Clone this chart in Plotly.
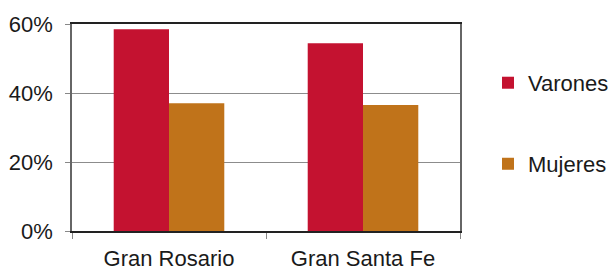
import plotly.graph_objects as go

categories = ["Gran Rosario", "Gran Santa Fe"]
varones = [58.5, 54.4]
mujeres = [37.0, 36.5]
y_ticks = [0, 20, 40, 60]
y_tick_labels = ["0%", "20%", "40%", "60%"]

FONT = "Liberation Sans, Arial, sans-serif"

fig = go.Figure()
fig.add_trace(go.Bar(x=categories, y=varones, name="Varones",
                     marker=dict(color="#C41230", line=dict(width=0)),
                     legend="legend"))
fig.add_trace(go.Bar(x=categories, y=mujeres, name="Mujeres",
                     marker=dict(color="#C0731A", line=dict(width=0)),
                     legend="legend2"))

leg_common = dict(xref="container", yref="container", xanchor="left", yanchor="middle",
                  bgcolor="rgba(0,0,0,0)", borderwidth=0,
                  font=dict(family=FONT, size=22, color="#1a1a1a"))

fig.update_layout(
    width=608, height=271,
    margin=dict(l=72, r=148, t=24, b=40, autoexpand=False),
    paper_bgcolor="white", plot_bgcolor="white",
    font=dict(family=FONT, size=22, color="#1a1a1a"),
    barmode="group", bargap=0.43, bargroupgap=0,
    showlegend=True,
    legend=dict(x=0.8026, y=0.694, **leg_common),
    legend2=dict(x=0.8026, y=0.395, **leg_common),
)

fig.update_xaxes(
    automargin=False,
    showline=True, linecolor="#222222", linewidth=1.5, mirror=True,
    ticks="outside", tickson="boundaries", ticklen=6, tickcolor="#888888",
    ticklabelstandoff=7,
    showgrid=False,
)
fig.update_yaxes(
    automargin=False,
    range=[0, 60], tickvals=y_ticks, ticktext=y_tick_labels,
    showline=True, linecolor="#666666", linewidth=1.5, mirror=True,
    ticks="outside", ticklen=5, tickcolor="#888888",
    showgrid=True, gridcolor="#8c8c8c", gridwidth=1,
    zeroline=False,
    ticklabelstandoff=8,
)

fig.write_html("out.html",
               config={"displayModeBar": False},
               post_script="document.body.style.margin='0';document.body.style.overflow='hidden';")
